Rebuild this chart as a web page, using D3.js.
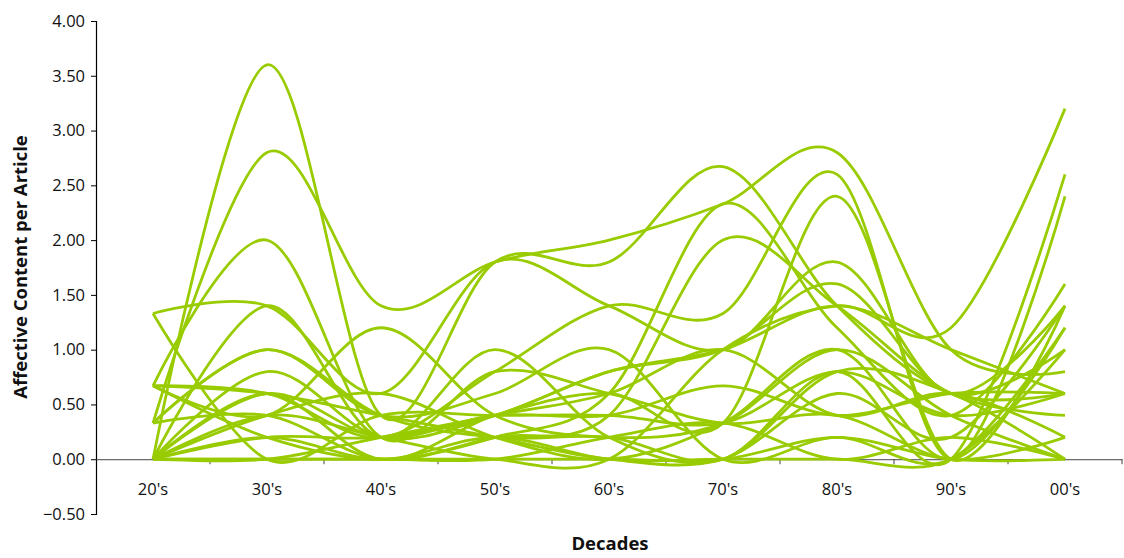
<!DOCTYPE html>
<html><head><meta charset="utf-8">
<script src="https://cdnjs.cloudflare.com/ajax/libs/d3/7.8.5/d3.min.js"></script>
<style>
html,body{margin:0;padding:0;background:#fff;}
svg{display:block;}
text{font-family:"Open Sans","Lato",sans-serif;fill:#111;}
</style></head>
<body>
<svg id="chart" width="1124" height="558"></svg>
<script>
const categories = ["20's","30's","40's","50's","60's","70's","80's","90's","00's"];
const yTicks = [-0.5,0,0.5,1,1.5,2,2.5,3,3.5,4];

const line01 = [0, 3.6, 0.4, 1.8, 1.8, 2.67, 1.4, 0.6, 0.6];
const line02 = [0.33, 2.8, 1.4, 1.8, 2.0, 2.33, 2.8, 1.0, 0.8];
const line03 = [0.67, 2.0, 0.2, 0.8, 0.6, 0.33, 0.4, 0, 0.2];
const line04 = [1.33, 1.4, 0.6, 1.8, 1.4, 1.0, 1.8, 0.6, 1.4];
const line05 = [1.33, 0, 0.4, 0.4, 0.4, 0.33, 0.8, 0.4, 0.6];
const line06 = [0.33, 1.0, 0.4, 0.6, 1.0, 0, 0.2, 0, 1.2];
const line07 = [0, 1.4, 0.2, 1.0, 0.2, 0, 0.8, 0, 2.6];
const line08 = [0.67, 0.4, 1.2, 0.4, 0.2, 0.33, 1.0, 0.4, 0];
const line09 = [0, 0.8, 0.2, 0.4, 0.8, 1.0, 1.6, 0.6, 1.0];
const line10 = [0.67, 0.6, 0.2, 0.8, 1.4, 1.33, 2.6, 0, 2.4];
const line11 = [0, 0.6, 0, 0.4, 0.6, 0.33, 2.4, 0, 1.4];
const line12 = [0.33, 0.4, 0, 0.2, 0.4, 2.0, 1.4, 0.6, 0.4];
const line13 = [0, 0.4, 0.2, 0, 0, 1.0, 1.4, 1.2, 3.2];
const line14 = [0, 0.2, 0.2, 0.4, 0.8, 1.0, 1.4, 1.0, 0.6];
const line15 = [0.67, 0.6, 0.4, 0.2, 0, 0, 0.6, 0.2, 1.4];
const line16 = [0, 0, 0.2, 0.4, 0.6, 1.0, 0.4, 0.6, 0.2];
const line17 = [0.33, 1.0, 0.4, 0.2, 0.2, 0, 0.8, 0.6, 0];
const line18 = [0, 0, 0, 0, 0.2, 0.33, 0, 0.2, 0];
const line19 = [0.67, 0.2, 0, 0.2, 0, 0, 0, 0, 1.0];
const line20 = [0, 0.6, 0.2, 0.4, 0.4, 0.67, 0.4, 0.6, 0.6];
const line21 = [0, 0, 0, 0, 0, 0, 0.2, 0, 0];
const line22 = [0, 0.4, 0.6, 0.2, 0, 0.33, 1.0, 0, 1.2];
const line23 = [0, 0.2, 0, 0.2, 0.6, 2.33, 1.2, 0.4, 1.6];

const allSeries = [line01,line02,line03,line04,line05,line06,line07,line08,line09,line10,line11,
  line12,line13,line14,line15,line16,line17,line18,line19,line20,line21,line22,line23];

const svg = d3.select("#chart");
const x = d3.scaleBand().domain(categories).range([96, 1122]).padding(0);
const y = d3.scaleLinear().domain([-0.5, 4]).range([514, 21]);
const cx = c => x(c) + x.bandwidth()/2;

// y axis
const yAxis = d3.axisLeft(y).tickValues(yTicks).tickFormat(d3.format(".2f")).tickSize(5).tickPadding(6);
const gy = svg.append("g").attr("transform","translate(96,0)").call(yAxis);
gy.select(".domain").attr("stroke","#000").attr("stroke-width",1.2);
gy.selectAll(".tick line").attr("stroke","#000");
gy.selectAll(".tick text").style("font-size","16.5px").attr("fill","#111");

// x axis at y = 0
const xAxis = d3.axisBottom(x).tickSize(0).tickPadding(24);
const gx = svg.append("g").attr("transform",`translate(0,${y(0)})`).call(xAxis);
gx.select(".domain").attr("stroke","#444").attr("stroke-width",1);
gx.selectAll(".tick text").style("font-size","16.5px").attr("fill","#111");
const bounds = categories.map(c => x(c) + x.bandwidth());
gx.selectAll(".bt").data(bounds).enter().append("line")
  .attr("x1", d=>d).attr("x2", d=>d).attr("y1",0).attr("y2",5).attr("stroke","#444");

// lines
const lineGen = d3.line().x((d,i)=>cx(categories[i])).y(d=>y(d)).curve(d3.curveCardinal.tension(0));
svg.append("g").selectAll("path").data(allSeries).enter().append("path")
  .attr("d", lineGen).attr("fill","none").attr("stroke","#99CC00").attr("stroke-width",2.8)
  .attr("stroke-linejoin","round");

// titles
svg.append("text").attr("x",610).attr("y",550).attr("text-anchor","middle")
  .style("font-size","18.5px").style("font-weight","bold").text("Decades");
svg.append("text").attr("transform","translate(27,267) rotate(-90)").attr("text-anchor","middle")
  .style("font-size","18.5px").style("font-weight","bold").text("Affective Content per Article");
</script>
</body></html>
